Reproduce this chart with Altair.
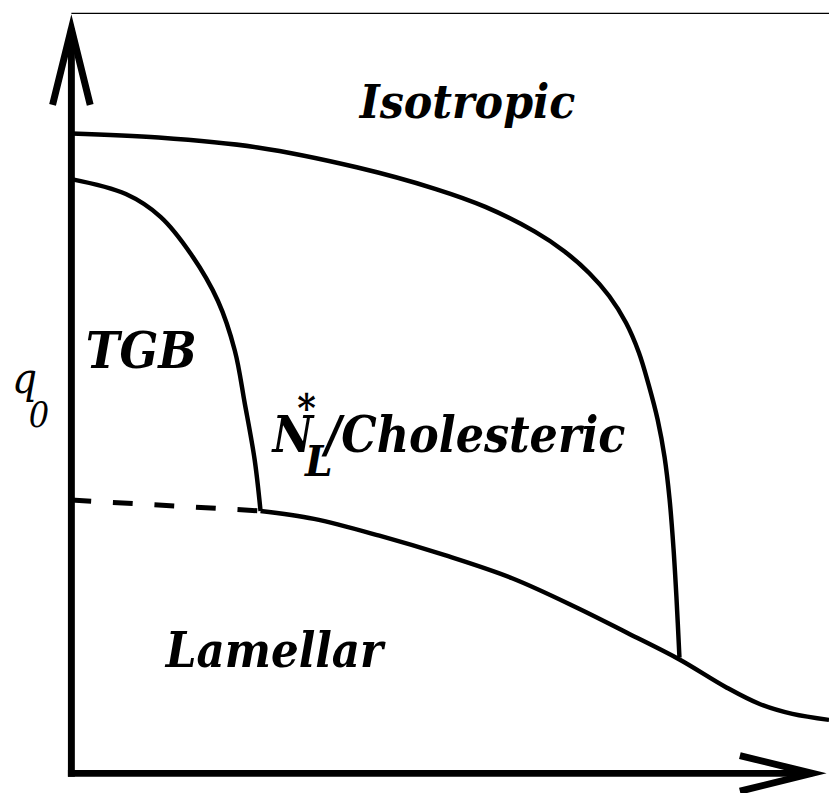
import altair as alt
import pandas as pd

# ---- phase boundaries (schematic units: x along the horizontal axis, y = q0) ----
iso_x = [0, 88, 188, 288, 368, 418, 468, 498, 523, 543, 560, 573, 583, 592, 599, 604, 608, 611, 614]
iso_y = [646, 642, 632, 612, 590, 572, 547, 527, 505, 482, 455, 425, 392, 357, 319, 277, 227, 177, 117]

tgb_x = [0, 55, 90, 121, 148, 165, 175, 185, 191]
tgb_y = [600, 585, 562, 524, 477, 427, 374, 317, 265]

lam_x = [191, 245, 311, 378, 445, 511, 561, 614, 661, 695, 728, 765]
lam_y = [265, 257, 240, 220, 197, 167, 142, 115, 87, 70, 60, 54]

dash_x = [0, 191]
dash_y = [276, 265]

# ---- axes with arrows and top frame line ----
vaxis_x = [0, 0]
vaxis_y = [-3.5, 752]
haxis_x = [-3.5, 748]
haxis_y = [0, 0]
varrow_x = [-19, 0, 19]
varrow_y = [675, 752, 675]
harrow_x = [675, 748, 675]
harrow_y = [18, 0, -18]
frame_x = [0, 765]
frame_y = [767.5, 767.5]

# ---- labels ----
center_labels = ["Isotropic", "TGB", "Lamellar"]
center_x = [400, 70.5, 205]
center_y = [662, 409, 107]
center_size = [48, 51, 49]

nl_labels = ["N", "*", "L", "/Cholesteric"]
nl_x = [203, 228, 236, 256]
nl_y = [325, 355, 300, 325]
nl_size = [50, 40, 44, 50]

q_labels = ["q", "0"]
q_x = [-60, -43]
q_y = [384, 350]
q_size = [44, 36]


def path(name, xs, ys):
    return pd.DataFrame({"x": xs, "y": ys, "order": list(range(len(xs))), "series": name})


curves = pd.concat([path("iso", iso_x, iso_y), path("tgb", tgb_x, tgb_y), path("lam", lam_x, lam_y)])
dashed = path("dash", dash_x, dash_y)
shafts = pd.concat([path("v", vaxis_x, vaxis_y), path("h", haxis_x, haxis_y)])
heads = pd.concat([path("va", varrow_x, varrow_y), path("ha", harrow_x, harrow_y)])
frame = path("frame", frame_x, frame_y)

W, H = 829, 785
xs = alt.Scale(domain=[-64, -64 + W], nice=False, zero=False)
ys = alt.Scale(domain=[-16, -16 + H], nice=False, zero=False)
X = alt.X("x:Q", scale=xs, axis=None)
Y = alt.Y("y:Q", scale=ys, axis=None)


def line_layer(df, **kw):
    return alt.Chart(df).mark_line(color="black", **kw).encode(
        x=X, y=Y, order="order:Q", detail="series:N"
    )


l_curves = line_layer(curves, strokeWidth=4.5, interpolate="catmull-rom")
l_dash = line_layer(dashed, strokeWidth=5, strokeDash=[20, 22])
l_shafts = line_layer(shafts, strokeWidth=7)
l_heads = line_layer(heads, strokeWidth=7, strokeJoin="miter", strokeMiterLimit=20)
l_frame = line_layer(frame, strokeWidth=1.3)

FONT = "DejaVu Serif Condensed, DejaVu Serif, serif"

t_center = alt.Chart(pd.DataFrame({"t": center_labels, "x": center_x, "y": center_y, "s": center_size})).mark_text(
    font=FONT, fontStyle="italic", fontWeight="bold", align="center",
    baseline="alphabetic", color="black"
).encode(x=X, y=Y, text="t:N", size=alt.Size("s:Q", scale=None, legend=None))

t_nl = alt.Chart(pd.DataFrame({"t": nl_labels, "x": nl_x, "y": nl_y, "s": nl_size})).mark_text(
    font=FONT, fontStyle="italic", fontWeight="bold", align="left",
    baseline="alphabetic", color="black"
).encode(x=X, y=Y, text="t:N", size=alt.Size("s:Q", scale=None, legend=None))

t_q = alt.Chart(pd.DataFrame({"t": q_labels, "x": q_x, "y": q_y, "s": q_size})).mark_text(
    font=FONT, fontStyle="italic", fontWeight="normal", align="left",
    baseline="alphabetic", color="black"
).encode(x=X, y=Y, text="t:N", size=alt.Size("s:Q", scale=None, legend=None))

chart = alt.layer(
    l_frame, l_curves, l_dash, l_shafts, l_heads, t_center, t_nl, t_q
).properties(
    width=W, height=H, padding=0, autosize=alt.AutoSizeParams(type="none"),
    background="white"
).configure_view(stroke=None)

chart.save("out.html", embed_options={"renderer": "svg", "actions": False})
